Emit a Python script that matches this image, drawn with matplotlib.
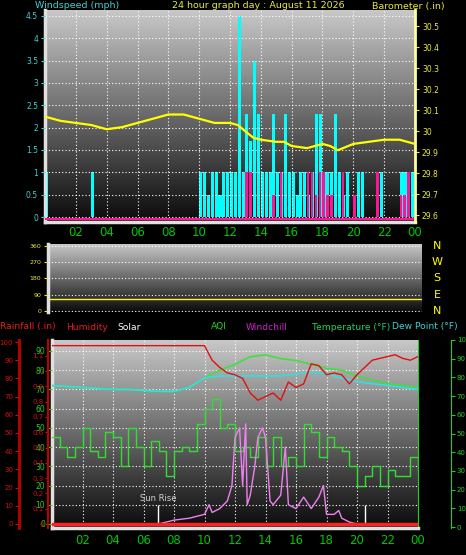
import numpy as np
import matplotlib
matplotlib.use("Agg")
import matplotlib.pyplot as plt
from matplotlib.colors import LinearSegmentedColormap

# ---------------- data ----------------
hour_labels = ['02','04','06','08','10','12','14','16','18','20','22','00']
hour_ticks = [2,4,6,8,10,12,14,16,18,20,22,24]

baro_t = [0,1,2,3,4,5,6,7,8,9,10,11,12,12.5,13,13.5,14,15,15.5,16,17,17.5,18,18.5,19,20,21,22,23,23.5,24]
baro_v = [30.07,30.05,30.04,30.03,30.01,30.02,30.04,30.06,30.08,30.08,30.06,30.04,30.04,30.03,30.00,29.97,29.96,29.95,29.95,29.93,29.92,29.93,29.94,29.93,29.91,29.94,29.95,29.96,29.96,29.95,29.94]

gust = [1,0,0,0, 0,0,0,0, 0,0,0,0, 1,0,0,0,
        0,0,0,0, 0,0,0,0, 0,0,0,0, 0,0,0,0, 0,0,0,0, 0,0,0,0,
        1,1,0.5,1, 1,0.5,1,1, 1,1,4.5,1, 2.3,1.7,3.5,2.3, 1,1,1,2.3,
        1,1,2.3,1, 1,0.5,1,1, 0.5,1,2.3,2.3, 1,1,1,2.3, 1,0.5,1,0,
        0.5,1,1,0, 0,0,0,1, 0,0,0,0, 1,1,1,1]
wind_avg = [0]*52 + [1,1,0,0, 0,0,0,0.5, 0,1,0,0, 0,0,0,0, 1,1,0.5,1, 1,0.5,0.5,0,
            0,1,0,0, 0.5,0,0,0, 0,0,1,0, 0,0,0,0, 0.5,0.5,1,0]

dir_t = [0, 24]
dir_v = [66, 66]

temp_t = [0,1,2,3,4,5,6,7,8,9,10,11,12,13,14,15,16,17,18,19,20,21,22,23,24]
temp_v = [72,71.5,71,70.5,70,70,69.5,69,69,71,76,80,83,87,88,86,85,83,81,80,77,75,73,72,71]
dew_v  = [72,71.5,71,70.5,70,70,69.5,69,69,71,76,77,77,77,77,77,78,79,78,76,74,73,72,71,70]

hum_t = [0,10,10.5,11,11.5,12,12.5,13,13.5,14,14.5,15,15.5,16,16.5,17,17.5,18,18.5,19,19.5,20,20.5,21,21.5,22,22.5,23,23.5,24]
hum_v = [98,98,90,86,83,82,80,72,68,70,72,68,78,75,77,88,87,82,83,82,77,82,86,90,91,92,93,91,90,92]

aqi_t = [i*0.5 for i in range(49)]
aqi_v = [45,40,35,40,50,38,35,48,45,30,50,40,30,43,38,25,38,40,38,52,60,65,50,52,38,40,35,45,30,45,30,35,30,52,48,35,45,40,38,30,20,25,30,20,28,25,25,35,28]

solar_t = [0,7,7.5,8,9,10,10.3,10.5,11,11.5,11.8,12,12.3,12.5,12.7,12.8,13,13.3,13.5,13.8,14,14.3,14.5,15,15.3,15.5,16,16.5,17,17.5,17.8,18,18.5,18.8,19,19.5,20,24]
solar_v = [0,0,1,2,3,5,10,6,8,12,20,45,50,20,52,10,15,30,45,50,45,12,10,15,40,10,8,14,8,14,20,5,5,7,3,1,0,0]

rain_t = [0, 24]
rain_v = [0, 0]
sunrise, sunset = 6.95, 20.5

# ---------------- styling helpers ----------------
W, H = 466, 555
fig = plt.figure(figsize=(W/100, H/100), dpi=100, facecolor='black')
cmap = LinearSegmentedColormap.from_list('g', ['#c8c8c8', '#0a0a0a'])
GREEN = '#00c800'

def axbox(x0, y0, x1, y1):
    return fig.add_axes([x0/W, 1-y1/H, (x1-x0)/W, (y1-y0)/H])

def prep(ax, ylim):
    ax.set_facecolor('black')
    ax.set_xlim(0, 24)
    ax.set_ylim(*ylim)
    grad = np.linspace(1, 0, 256).reshape(-1, 1)
    ax.imshow(1-grad, extent=[0, 24, ylim[0], ylim[1]], aspect='auto', cmap=cmap, zorder=0)
    for s in ['top', 'right']:
        ax.spines[s].set_visible(False)
    for s in ['left', 'bottom']:
        ax.spines[s].set_color('#e0e0e0'); ax.spines[s].set_linewidth(2.5)
    ax.grid(True, color='white', linestyle=(0, (1, 2)), linewidth=0.8)
    ax.set_xticks(hour_ticks)
    ax.set_axisbelow(False)

# ---------------- top panel ----------------
ax1 = axbox(45, 10, 415, 222)
prep(ax1, (-0.11, 4.63))
t15 = np.arange(len(gust)) * 0.25
ax1.bar(t15, gust, width=0.2, align='edge', color='#00ffff', zorder=2)
ax1.bar(t15, wind_avg, width=0.15, align='edge', color='#ff1493', zorder=3)
ax1.axhline(-0.05, color='#ff1493', lw=1.5, zorder=3)
ax1.set_yticks([0,0.5,1,1.5,2,2.5,3,3.5,4,4.5])
ax1.set_yticklabels(['0','0.5','1','1.5','2','2.5','3','3.5','4','4.5'])
ax1.tick_params(axis='y', colors='#40d0d0', labelsize=5.5, length=3, pad=2)
ax1.tick_params(axis='x', colors=GREEN, labelsize=8.5, length=0, pad=3)
ax1.set_xticklabels(hour_labels)
ax1b = ax1.twinx()
ax1b.set_ylim(29.568, 30.578)
ax1b.plot(baro_t, baro_v, color='#ffff00', lw=1.6, zorder=4)
ax1b.set_yticks([29.6,29.7,29.8,29.9,30,30.1,30.2,30.3,30.4,30.5])
ax1b.set_yticklabels(['29.6','29.7','29.8','29.9','30','30.1','30.2','30.3','30.4','30.5'])
ax1b.tick_params(axis='y', colors='#e8e840', labelsize=5.5, length=3, pad=2)
for s in ax1b.spines.values(): s.set_visible(False)
ax1b.spines['right'].set_visible(True); ax1b.spines['right'].set_color('#ffffa0'); ax1b.spines['right'].set_linewidth(2)

fig.text(35/W, 1-6/H, 'Windspeed (mph)', color='#40d0d0', fontsize=6.8, va='center')
fig.text(172/W, 1-6/H, '24 hour graph day : August 11 2026', color='#e8e840', fontsize=6.8, va='center')
fig.text(372/W, 1-6/H, 'Barometer (.in)', color='#e8e840', fontsize=6.8, va='center')

# ---------------- middle panel ----------------
ax2 = axbox(48, 244, 422, 312)
prep(ax2, (-5.5, 371))
ax2.plot(dir_t, dir_v, color='#ffff00', lw=1)
ax2.grid(axis='x', visible=False)
ax2.set_xticks([])
ax2.spines['bottom'].set_visible(False)
ax2.set_yticks([0,90,180,270,360])
ax2.tick_params(axis='y', colors='#e8e840', labelsize=4.5, length=3, pad=2)
for v, lab in zip([360,270,180,90,0], ['N','W','S','E','N']):
    ax2.text(1.04, (v+5.5)/376.5, lab, transform=ax2.transAxes, color='#ffff00', fontsize=8, va='center', ha='center')

labs = [(0,'Rainfall (.in)','#e02020'),(66,'Humidity','#e02020'),(117,'Solar','white'),
        (211,'AQI','#20d020'),(246,'Windchill','#d020d0'),(312,'Temperature (°F)','#20d060'),
        (392,'Dew Point (°F)','#40d0d0')]
for x, s, c in labs:
    fig.text(x/W, 1-327/H, s, color=c, fontsize=6.6, va='center')

# ---------------- bottom panel ----------------
ax3 = axbox(52, 340, 418, 528)
prep(ax3, (-2.1, 95.7))
ax3.set_xticklabels(hour_labels)
ax3.tick_params(axis='x', colors=GREEN, labelsize=8.5, length=0, pad=4)
ax3.set_yticks([0,10,20,30,40,50,60,70,80,90])
ax3.tick_params(axis='y', left=False, labelleft=False, right=True, labelright=True,
                colors='#20d020', labelsize=5.5, length=3, pad=2)
ax3.spines['right'].set_visible(True); ax3.spines['right'].set_color('#20d020')
ax3.step(aqi_t, aqi_v, where='post', color='#30e030', lw=1, zorder=3)
ax3.plot(temp_t, temp_v, color='#40e040', lw=1.2, zorder=4)
ax3.plot(temp_t, dew_v, color='#30e0e0', lw=1.2, zorder=4)
ax3.plot(solar_t, solar_v, color='#f080f0', lw=1, zorder=3)
ax3.vlines([sunrise, sunset], 0, 10, color='white', lw=1, zorder=5)
ax3.text(sunrise, 11, 'Sun Rise', color='#d0d0d0', fontsize=6, ha='center', va='bottom')

# humidity axis
axh = ax3.twinx()
axh.set_ylim(-2.2, 101.1)
axh.plot(hum_t, hum_v, color='#e01010', lw=1, zorder=5)
axh.yaxis.set_ticks_position('left'); axh.yaxis.set_label_position('left')
axh.spines['left'].set_position(('outward', 24))
for s in ['top','right','bottom']: axh.spines[s].set_visible(False)
axh.spines['left'].set_color('#c00000'); axh.spines['left'].set_linewidth(2)
axh.set_yticks(range(0, 101, 10))
axh.tick_params(axis='y', colors='#d01010', labelsize=5, length=3, pad=1)

# rainfall axis
axr = ax3.twinx()
axr.set_ylim(-0.026, 1.203)
axr.plot(rain_t, rain_v, color='#ff2020', lw=2.5, zorder=5)
axr.yaxis.set_ticks_position('left')
axr.spines['left'].set_position(('outward', 3))
for s in ['top','right','bottom']: axr.spines[s].set_visible(False)
axr.spines['left'].set_color('#c00000'); axr.spines['left'].set_linewidth(1.5)
axr.set_yticks([0,0.1,0.2,0.3,0.4,0.5,0.6,0.7,0.8,0.9,1,1.1])
axr.set_yticklabels(['0','0.1','0.2','0.3','0.4','0.5','0.6','0.7','0.8','0.9','1','1.1'])
axr.tick_params(axis='y', colors='#d01010', labelsize=5, length=2, pad=1)

# AQI axis
axa = ax3.twinx()
axa.set_ylim(-0.5, 100)
axa.spines['right'].set_position(('outward', 24))
for s in ['top','left','bottom']: axa.spines[s].set_visible(False)
axa.spines['right'].set_color('#20d020')
axa.set_yticks(range(0, 101, 10))
axa.tick_params(axis='y', colors='#20d020', labelsize=5, length=3, pad=1)

fig.savefig('out.png', dpi=100, facecolor='black')
